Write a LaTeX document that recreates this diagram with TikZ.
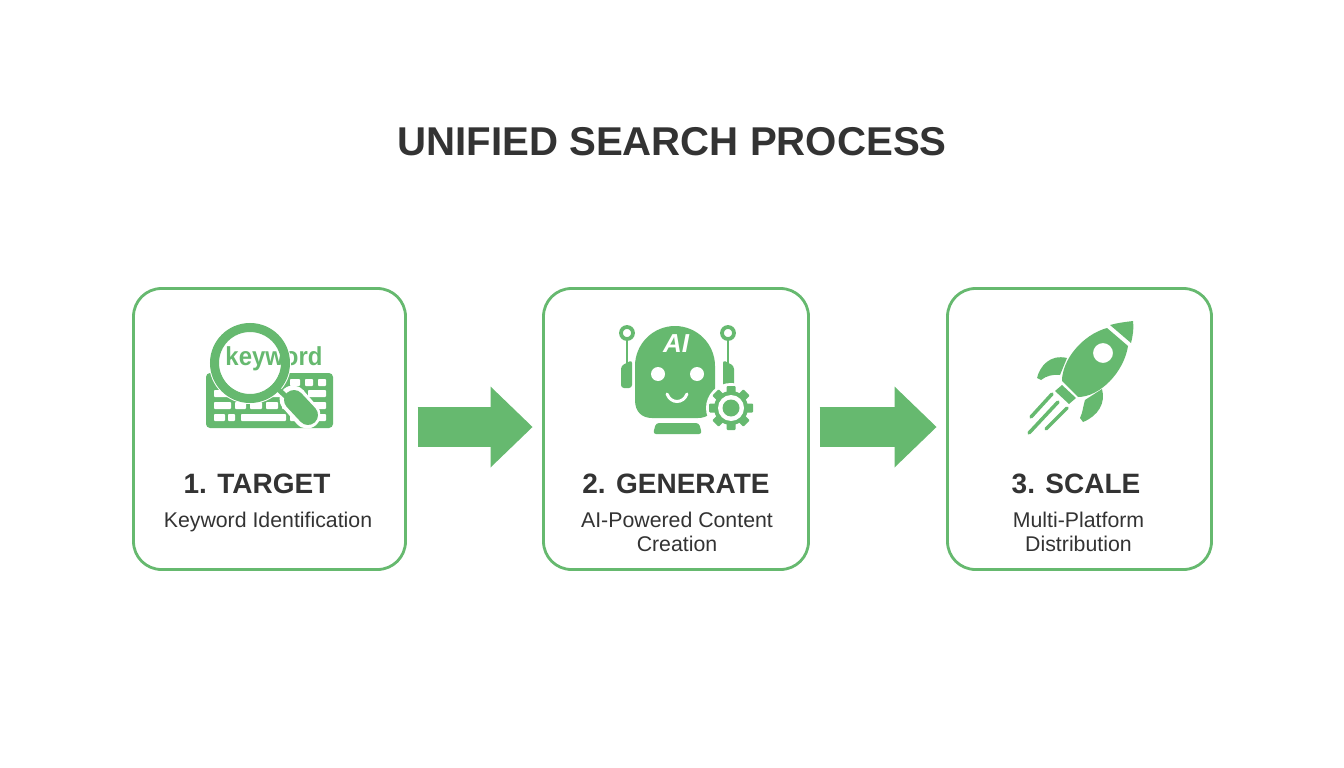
\documentclass[tikz,border=0pt]{standalone}
\usepackage{fontspec}
\setmainfont{Liberation Sans}
\usetikzlibrary{arrows.meta}
\definecolor{leaf}{HTML}{66B96F}
\definecolor{ink}{HTML}{333333}
\tikzset{
  stepbox/.style={draw=leaf,line width=2.8pt,fill=white,rounded corners=28pt,outer sep=0pt,inner sep=0pt},
  flowarrow/.style={draw=leaf,line width=40pt,-{Triangle[length=42pt,width=81pt,line width=0pt]},shorten <=12pt,shorten >=11pt},
  steptitle/.style={text=ink,font=\fontsize{28}{34}\selectfont\bfseries},
  stepnote/.style={text=ink,font=\fontsize{21.3}{24.5}\selectfont,align=center},
  keycap/.style={fill=white,rounded corners=0.8pt},
}
\begin{document}
\begin{tikzpicture}[x=1pt,y=-1pt]
\useasboundingbox (0,0) rectangle (1344,768);
\fill[white] (0,0) rectangle (1344,768);

\node[text=ink,font=\fontsize{40.2}{48}\selectfont\bfseries] (title) at (672,142) {UNIFIED SEARCH PROCESS};

%Draw the boxes
\node[stepbox,minimum width=272pt,minimum height=281pt] (target) at (269.5,429) {};
\node[stepbox,minimum width=265pt,minimum height=281pt] (generate) at (676,429) {};
\node[stepbox,minimum width=264pt,minimum height=281pt] (scale) at (1079.5,429) {};

%Add arrows
\draw[flowarrow] ([yshift=2pt]target.east) -- ([yshift=2pt]generate.west);
\draw[flowarrow,shorten <=11pt] ([yshift=2pt]generate.east) -- ([yshift=2pt]scale.west);

%Box texts
\node[steptitle] (targethead) at (257,483.5) {1. TARGET};
\node[stepnote] (targetnote) at (268,521.5) {Keyword Identification};
\node[steptitle] (generatehead) at (676,483.5) {2. GENERATE};
\node[stepnote] (generatenote) at (677,532) {AI-Powered Content\\Creation};
\node[steptitle] (scalehead) at (1076,483.5) {3. SCALE};
\node[stepnote] (scalenote) at (1078.5,532) {Multi-Platform\\Distribution};

%Keyboard
\fill[leaf,rounded corners=4pt] (206,373) rectangle (333,428);
\foreach \xa/\xb/\ya in {214/232/390,236/250/390,254/268/390,272/286/390,290/304/390,308/326/390,
                         214/231/402,235/246/402,250/262/402,266/278/402,282/296/402,300/326/402,
                         214/225/414,228/235/414,241/286/414,290/300/414,304/326/414,
                         290/300/379,305/313/379,318/326/379}
{
	\fill[keycap] (\xa,\ya) rectangle (\xb,\ya+7);
}

%Magnifier over the word
\fill[white] (250,363) circle (31);
\node[text=leaf,font=\fontsize{26}{30}\selectfont\bfseries,inner sep=0pt,xscale=0.92] (keyword) at (274,359) {keyword};
\draw[white,line width=7pt] (250,363) circle (37.5);
\draw[leaf,line width=9pt] (250,363) circle (35.5);
\draw[white,line width=27pt,line cap=round] (293,399) -- (307,415);
\draw[leaf,line width=5pt] (279,390) -- (291,401);
\draw[leaf,line width=20pt,line cap=round] (294,400) -- (308,415);

%Robot
\foreach \xr in {627,728}
{
	\draw[leaf,line width=2.5pt] (\xr,340) -- (\xr,364);
	\draw[leaf,line width=3.8pt] (\xr,333) circle (6);
}
\fill[leaf,rounded corners=3pt] (632,360) -- (621,366) -- (621,388) -- (632,388) -- cycle;
\fill[leaf,rounded corners=3pt] (723,360) -- (734,366) -- (734,388) -- (723,388) -- cycle;
\fill[leaf] (635,366) .. controls (635,344) and (653,326) .. (675,326)
            .. controls (697,326) and (715,344) .. (715,366)
            -- (715,400) .. controls (715,412) and (708,418) .. (698,418)
            -- (652,418) .. controls (642,418) and (635,412) .. (635,400) -- cycle;
\fill[leaf,rounded corners=3pt] (653,434) -- (656,423) -- (699,423) -- (702,434) -- cycle;
\node[text=white,font=\fontsize{26}{30}\selectfont\bfseries\itshape,inner sep=0pt] (ailabel) at (676,344) {AI};
\fill[white] (658,374) circle (7) (697,374) circle (7);
\draw[white,line width=3pt,line cap=round] (667,394) .. controls (671,404) and (683,404) .. (687,394);

%Gear
\fill[white] (731,408) circle (25);
\fill[leaf] (731,408) circle (17);
\foreach \a in {0,45,...,315}
{
	\fill[leaf,shift={(731,408)},rotate=\a,rounded corners=1pt] (-4.5,-22) rectangle (4.5,-14);
}
\fill[white] (731,408) circle (13);
\fill[leaf] (731,408) circle (8.5);

%Rocket
\fill[leaf] (1133,321) .. controls (1125,322) and (1117,323) .. (1110,325)
            -- (1131,343) .. controls (1133,335) and (1134,328) .. cycle;
\fill[leaf,even odd rule] (1107,328) -- (1128,346) .. controls (1124,372) and (1100,397) .. (1078,397)
            -- (1062,381) .. controls (1062,360) and (1082,335) .. cycle
            (1103,353) circle (10);
\fill[leaf] (1062,385) -- (1055,391) -- (1069,404) -- (1076,398) -- cycle;
\fill[leaf] (1067,358) .. controls (1050,354) and (1040,366) .. (1037,378)
            -- (1041,380) .. controls (1046,376) and (1053,374) .. (1060,375) -- cycle;
\fill[leaf] (1102,389) .. controls (1106,403) and (1098,416) .. (1083,422)
            -- (1080,418) .. controls (1083,412) and (1083,406) .. (1085,400) -- cycle;
\draw[leaf,line width=3.5pt,line cap=round] (1031,417) -- (1052,394) (1029,433) -- (1058,402) (1046,429) -- (1067,408);
\end{tikzpicture}
\end{document}
